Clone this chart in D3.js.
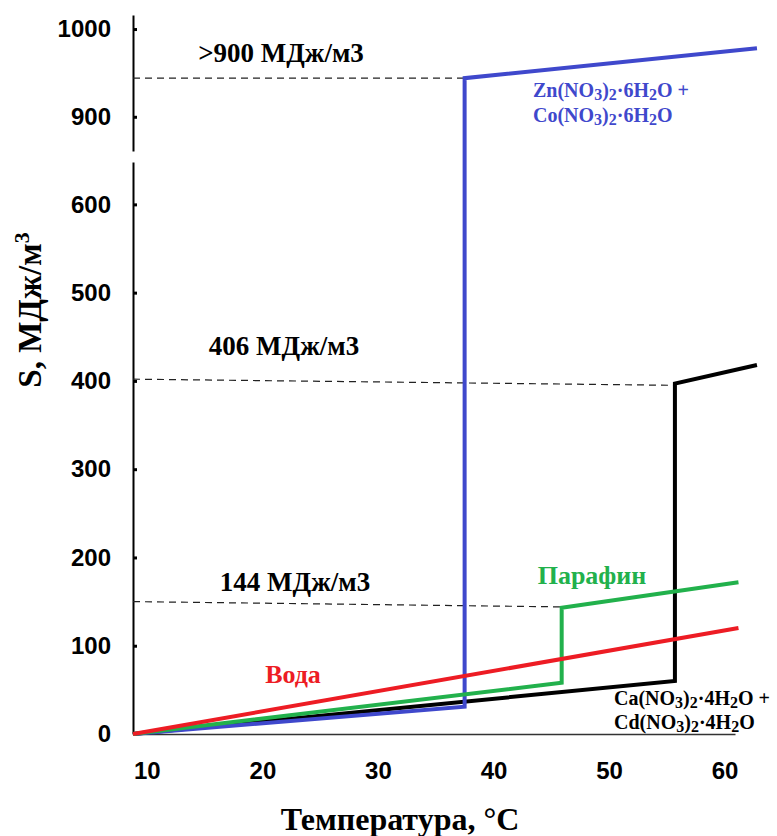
<!DOCTYPE html>
<html>
<head>
<meta charset="utf-8">
<script src="https://cdn.jsdelivr.net/npm/d3@7"></script>
<style>
  body { margin: 0; background: #fff; }
  svg { display: block; }
</style>
</head>
<body>
<div id="chart"></div>
<script>
// temperatures (°C) and storage values S (MJ/m3)
const waterT = [8.8, 61.2];
const waterS = [0, 120];
const paraffinT = [8.8, 45.9, 45.9, 61.2];
const paraffinS = [0, 58, 143, 172];
const caCdT = [8.8, 55.7, 55.7, 62.8];
const caCdS = [0, 60, 397, 418];
const znCoT = [8.8, 37.5, 37.5, 62.8];
const znCoS = [0, 31, 944, 978];

// dashed reference levels
const ref900T = [8.8, 37.5];
const ref900S = [944, 944];
const ref406T = [8.8, 55.7];
const ref406S = [402, 395];
const ref144T = [8.8, 45.9];
const ref144S = [150, 144];

const xTicks = [10, 20, 30, 40, 50, 60];
const yTicksLow = [0, 100, 200, 300, 400, 500, 600];
const yTicksHigh = [900, 1000];

const W = 777, H = 836;
const svg = d3.select('#chart').append('svg')
    .attr('width', W)
    .attr('height', H);

const x = d3.scaleLinear().domain([8.8, 60.9]).range([133, 735]);
const yLow = d3.scaleLinear().domain([0, 648]).range([734, 162]);
const yHigh = d3.scaleLinear().domain([861, 1016]).range([151, 15]);
const y = v => v > 700 ? yHigh(v) : yLow(v);

const tickFont = '"Liberation Sans", Arial, sans-serif';
const serif = '"Liberation Serif", "Times New Roman", serif';

// axes
function styleAxis(g) {
    g.select('.domain').attr('stroke', '#000').attr('stroke-width', 2);
    g.selectAll('.tick line').attr('stroke', '#000').attr('stroke-width', 3);
    g.selectAll('.tick text')
        .style('font-family', tickFont)
        .style('font-weight', 'bold')
        .style('font-size', '24px')
        .attr('fill', '#000');
}

svg.append('g')
    .attr('transform', 'translate(133,0)')
    .call(d3.axisLeft(yLow).tickValues(yTicksLow).tickFormat(d3.format('d'))
        .tickSizeInner(-4).tickSizeOuter(0).tickPadding(22))
    .call(styleAxis);

svg.append('g')
    .attr('transform', 'translate(133,0)')
    .call(d3.axisLeft(yHigh).tickValues(yTicksHigh).tickFormat(d3.format('d'))
        .tickSizeInner(-4).tickSizeOuter(0).tickPadding(22))
    .call(styleAxis);

svg.append('g')
    .attr('transform', 'translate(0,734)')
    .call(d3.axisBottom(x).tickValues(xTicks).tickSize(0).tickPadding(28))
    .call(styleAxis)
    .call(g => g.select('.domain').attr('stroke', '#333').attr('stroke-width', 1.5));

// lines
const line = d3.line().x(d => x(d[0])).y(d => y(d[1]));
const zip = (a, b) => a.map((v, i) => [v, b[i]]);

[[ref900T, ref900S], [ref406T, ref406S], [ref144T, ref144S]].forEach(([t, s]) => {
    svg.append('path')
        .attr('d', line(zip(t, s)))
        .attr('fill', 'none')
        .attr('stroke', '#222')
        .attr('stroke-width', 1.2)
        .attr('stroke-dasharray', '7,5');
});

const series = [
    { t: caCdT, s: caCdS, color: '#000000' },
    { t: znCoT, s: znCoS, color: '#3f48cc' },
    { t: paraffinT, s: paraffinS, color: '#22b14c' },
    { t: waterT, s: waterS, color: '#ed1c24' }
];

series.forEach(d => {
    svg.append('path')
        .attr('d', line(zip(d.t, d.s)))
        .attr('fill', 'none')
        .attr('stroke', d.color)
        .attr('stroke-width', 4)
        .attr('stroke-linejoin', 'miter');
});

// annotations
function label(xp, yp, txt, color, size) {
    svg.append('text')
        .attr('x', xp)
        .attr('y', yp)
        .attr('text-anchor', 'middle')
        .style('font-family', serif)
        .style('font-weight', 'bold')
        .style('font-size', size + 'px')
        .attr('fill', color)
        .text(txt);
}

label(281, 62, '>900 МДж/м3', '#000', 27);
label(284, 355, '406 МДж/м3', '#000', 27);
label(295, 591, '144 МДж/м3', '#000', 27);
label(293, 683, 'Вода', '#ed1c24', 26);
label(592, 584, 'Парафин', '#22b14c', 26);

// chemical formulas with subscripts
function formula(xp, yp, parts, color) {
    const t = svg.append('text')
        .attr('x', xp)
        .attr('y', yp)
        .style('font-family', serif)
        .style('font-weight', 'bold')
        .style('font-size', '20px')
        .attr('fill', color);
    let shift = 0;
    parts.forEach(([s, sub]) => {
        const want = sub ? 3 : 0;
        t.append('tspan')
            .attr('dy', want - shift)
            .style('font-size', sub ? '16px' : '20px')
            .text(s);
        shift = want;
    });
}

formula(533, 97, [['Zn(NO', 0], ['3', 1], [')', 0], ['2', 1], ['·6H', 0], ['2', 1], ['O +', 0]], '#3f48cc');
formula(533, 122, [['Co(NO', 0], ['3', 1], [')', 0], ['2', 1], ['·6H', 0], ['2', 1], ['O', 0]], '#3f48cc');
formula(614, 705, [['Ca(NO', 0], ['3', 1], [')', 0], ['2', 1], ['·4H', 0], ['2', 1], ['O +', 0]], '#000');
formula(614, 729, [['Cd(NO', 0], ['3', 1], [')', 0], ['2', 1], ['·4H', 0], ['2', 1], ['O', 0]], '#000');

// axis titles
const yTitle = svg.append('text')
    .attr('transform', 'translate(41,310) rotate(-90)')
    .attr('text-anchor', 'middle')
    .style('font-family', serif)
    .style('font-weight', 'bold')
    .style('font-size', '33px')
    .attr('fill', '#000');
yTitle.append('tspan').text('S, МДж/м');
yTitle.append('tspan').attr('dy', -12).style('font-size', '22px').text('3');

svg.append('text')
    .attr('x', 400)
    .attr('y', 830)
    .attr('text-anchor', 'middle')
    .style('font-family', serif)
    .style('font-weight', 'bold')
    .style('font-size', '32px')
    .attr('fill', '#000')
    .text('Температура, °C');
</script>
</body>
</html>
